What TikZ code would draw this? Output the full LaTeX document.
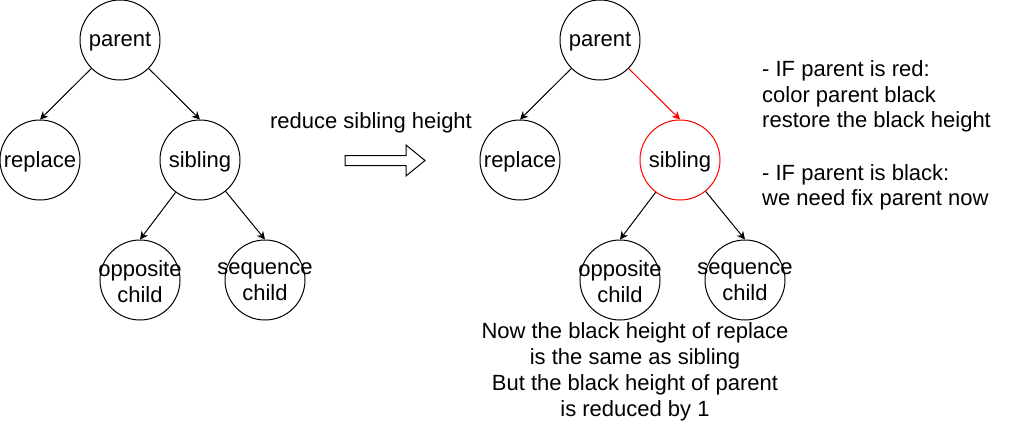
\documentclass[tikz,border=0pt]{standalone}
\usepackage{fontspec}
\setmainfont{Liberation Sans}
\usetikzlibrary{arrows.meta}
\begin{document}
\begin{tikzpicture}[x=1pt,y=-1pt,
  circ/.style={circle,draw,line width=1pt,minimum size=80pt,inner sep=0pt},
  txt/.style={font=\fontsize{22}{26}\selectfont,align=center,inner sep=0pt},
  ctxt/.style={txt,yshift=-1.8pt},
  edge/.style={line width=1pt,-{Stealth[length=8pt,width=8pt,inset=2.5pt]}},
  redc/.style={draw=red}]
\useasboundingbox (0,0) rectangle (1021,424);
% left tree
\node[circ,label={[ctxt]center:parent}] (p1) at (120,40) {};
\node[circ,label={[ctxt]center:replace}] (r1) at (40,160) {};
\node[circ,label={[ctxt]center:sibling}] (s1) at (200,160) {};
\node[circ,label={[ctxt]center:{opposite\\child}}] (o1) at (140,280) {};
\node[circ,label={[ctxt]center:{sequence\\child}}] (q1) at (265,280) {};
\draw[edge] (p1) -- (r1.north);
\draw[edge] (p1) -- (s1.north);
\draw[edge] (s1) -- (o1.north);
\draw[edge] (s1) -- (q1.north);
% middle
\node[txt] (lbl) at (371,122.5) {reduce sibling height};
\draw[line width=1pt] (345,155.5) coordinate (a0) -- (406,155.5) -- (406,145) -- (425,160.5) coordinate (atip) -- (406,176) -- (406,165.5) -- (345,165.5) -- cycle;
% right tree
\node[circ,label={[ctxt]center:parent}] (p2) at (600,40) {};
\node[circ,label={[ctxt]center:replace}] (r2) at (520,160) {};
\node[circ,redc,label={[ctxt]center:sibling}] (s2) at (680,160) {};
\node[circ,label={[ctxt]center:{opposite\\child}}] (o2) at (620,280) {};
\node[circ,label={[ctxt]center:{sequence\\child}}] (q2) at (745,280) {};
\draw[edge] (p2) -- (r2.north);
\draw[edge,red] (p2) -- (s2.north);
\draw[edge] (s2) -- (o2.north);
\draw[edge] (s2) -- (q2.north);
% notes
\node[txt,align=left,anchor=west,font=\fontsize{22}{25.6}\selectfont] (note) at (762,135.5) {- IF parent is red:\\color parent black\\restore the black height\\[26.5pt]- IF parent is black:\\we need fix parent now};
\node[txt] (bottom) at (635,372) {Now the black height of replace\\is the same as sibling\\But the black height of parent\\is reduced by 1};
\end{tikzpicture}
\end{document}
